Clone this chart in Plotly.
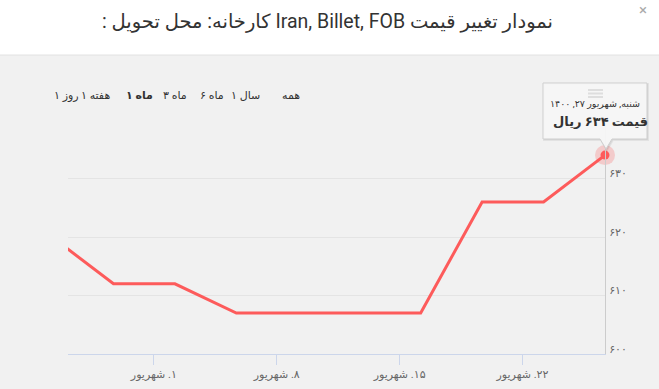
import plotly.graph_objects as go

# ---- data ----
# x: day of Shahrivar 1400 (negative = end of Mordad), one point every 3.5 days
days = [-4.8, -1.3, 2.2, 5.7, 9.2, 12.7, 16.2, 19.7, 23.2, 26.7]
prices = [620, 612, 612, 607, 607, 607, 607, 626, 626, 634]
x_tick_days = [1, 8, 15, 22]
x_tick_labels = ["۱. شهریور", "۸. شهریور", "۱۵. شهریور", "۲۲. شهریور"]
y_tick_vals = [600, 610, 620, 630, 640]
y_tick_labels = ["۶۰۰", "۶۱۰", "۶۲۰", "۶۳۰", ""]
range_buttons = ["۱ روز", "۱ هفته", "۱ ماه", "۳ ماه", "۶ ماه", "۱ سال", "همه"]
title_text = "نمودار تغییر قیمت Iran, Billet, FOB کارخانه: محل تحویل :"
tooltip_date = "شنبه, شهریور ۲۷, ۱۴۰۰"
tooltip_value = "قیمت ۶۳۴ ریال"

W, H = 659, 389
L, R, T, B = 68, 54, 120, 35
PW, PH = W - L - R, H - T - B

def px(x):
    return (x - L) / PW

def py(y):
    return (H - B - y) / PH

RLE, PDF = "\u202b", "\u202c"
FONT = "Roboto, 'DejaVu Sans', sans-serif"
LINE = "#fd5b5b"

fig = go.Figure()
fig.add_trace(go.Scatter(x=days, y=prices, mode="lines",
                         line=dict(color=LINE, width=3), hoverinfo="skip"))
fig.add_trace(go.Scatter(x=days[-1:], y=prices[-1:], mode="markers",
                         marker=dict(size=20, color="rgba(253,91,91,0.25)"),
                         hoverinfo="skip", cliponaxis=False))
fig.add_trace(go.Scatter(x=days[-1:], y=prices[-1:], mode="markers",
                         marker=dict(size=9, color=LINE),
                         hoverinfo="skip", cliponaxis=False))

shapes = []
shapes.append(dict(type="rect", xref="paper", yref="paper", layer="below",
                   x0=px(0), x1=px(W), y0=py(H), y1=py(55),
                   fillcolor="#f1f1f1", line=dict(width=0)))
shapes.append(dict(type="line", xref="paper", yref="paper", layer="below",
                   x0=px(0), x1=px(W), y0=py(55), y1=py(55),
                   line=dict(color="#e2e2e2", width=1)))

# tooltip callout
bx0, bx1, by0, by1 = 543, 647, 83, 139
tipx, tipy = 606, 149
def callout(dx=0, dy=0):
    pts = [(bx0 + dx, by0 + dy), (bx1 + dx, by0 + dy), (bx1 + dx, by1 + dy),
           (tipx + 6 + dx, by1 + dy), (tipx + dx, tipy + dy), (tipx - 6 + dx, by1 + dy),
           (bx0 + dx, by1 + dy)]
    return "M " + " L ".join(f"{px(a):.5f},{py(b):.5f}" for a, b in pts) + " Z"

shapes.append(dict(type="path", xref="paper", yref="paper", layer="above",
                   path=callout(1, 1), fillcolor="rgba(0,0,0,0.06)",
                   line=dict(color="rgba(0,0,0,0.06)", width=2)))
shapes.append(dict(type="path", xref="paper", yref="paper", layer="above",
                   path=callout(), fillcolor="rgba(248,248,248,0.93)",
                   line=dict(color="#cfcfcf", width=1)))
for yy in (90, 93.5, 97):
    shapes.append(dict(type="line", xref="paper", yref="paper", layer="above",
                       x0=px(588), x1=px(603), y0=py(yy), y1=py(yy),
                       line=dict(color="#dedede", width=2)))

annotations = []
annotations.append(dict(text=RLE + title_text + PDF, xref="paper", yref="paper",
                        x=px(327), y=py(22), showarrow=False, xanchor="center",
                        yanchor="middle", font=dict(family=FONT, size=19.5, color="#333")))
annotations.append(dict(text="×", xref="paper", yref="paper", x=px(643), y=py(10),
                        showarrow=False, xanchor="center", yanchor="middle",
                        font=dict(family=FONT, size=15, color="#aaa")))
btn_x = [66, 95, 139, 175, 212, 245, 291]
for lab, bxp in zip(range_buttons, btn_x):
    bold = lab == "۱ ماه"
    annotations.append(dict(text=("<b>" + lab + "</b>") if bold else lab,
                            xref="paper", yref="paper", x=px(bxp), y=py(96),
                            showarrow=False, xanchor="center", yanchor="middle",
                            font=dict(family=FONT, size=11, color="#333")))
annotations.append(dict(text=tooltip_date, xref="paper", yref="paper",
                        x=px(595), y=py(103), showarrow=False, xanchor="center",
                        yanchor="middle", font=dict(family=FONT, size=9.5, color="#333")))
annotations.append(dict(text="<b>" + tooltip_value + "</b>", xref="paper",
                        yref="paper", x=px(551), y=py(121), showarrow=False,
                        xanchor="left", yanchor="middle",
                        font=dict(family=FONT, size=13, color="#333")))

fig.update_layout(
    width=W, height=H, margin=dict(l=L, r=R, t=T, b=B, autoexpand=False),
    paper_bgcolor="white", plot_bgcolor="rgba(0,0,0,0)",
    showlegend=False, shapes=shapes, annotations=annotations,
    font=dict(family=FONT),
    xaxis=dict(range=[-3.89, 26.7], tickvals=x_tick_days,
               ticktext=[RLE + t + PDF for t in x_tick_labels],
               showgrid=False, zeroline=False, showline=True, linecolor="#ccd6eb",
               linewidth=1, ticks="outside", ticklen=10, tickcolor="#ccd6eb",
               ticklabelstandoff=0, automargin=False,
               tickfont=dict(family=FONT, size=11, color="#666"), fixedrange=True),
    yaxis=dict(range=[600, 640], side="right", tickvals=y_tick_vals,
               ticktext=y_tick_labels, showgrid=True, gridcolor="#e4e4e4",
               zeroline=False, showline=True, linecolor="#cccccc", linewidth=1,
               ticks="", ticklabelshift=-5, ticklabelstandoff=1, automargin=False,
               tickfont=dict(family=FONT, size=11, color="#666"), fixedrange=True),
)

fig.write_html("out.html", config={"displayModeBar": False},
               post_script="document.body.style.margin='0';document.body.style.overflow='hidden';")
